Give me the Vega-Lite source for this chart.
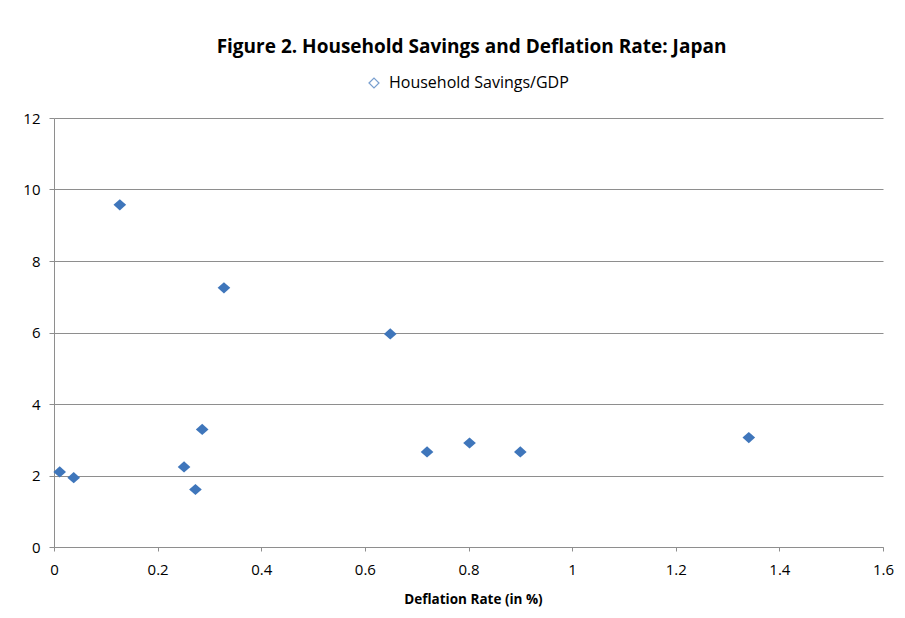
{
  "$schema": "https://vega.github.io/schema/vega-lite/v6.json",
  "autosize": {"type": "none"},
  "padding": {"left": 54, "top": 118, "right": 22, "bottom": 71},
  "width": 829,
  "height": 429,
  "background": "white",
  "title": {
    "text": "Figure 2. Household Savings and Deflation Rate: Japan",
    "font": "Open Sans",
    "fontSize": 19,
    "fontWeight": "bold",
    "color": "#000000",
    "anchor": "middle",
    "offset": 18,
    "dx": 3
  },
  "data": {
    "values": [
      {"deflation": 0.011, "savings": 2.10, "series": "Household Savings/GDP"},
      {"deflation": 0.038, "savings": 1.94, "series": "Household Savings/GDP"},
      {"deflation": 0.127, "savings": 9.57, "series": "Household Savings/GDP"},
      {"deflation": 0.251, "savings": 2.24, "series": "Household Savings/GDP"},
      {"deflation": 0.273, "savings": 1.61, "series": "Household Savings/GDP"},
      {"deflation": 0.286, "savings": 3.29, "series": "Household Savings/GDP"},
      {"deflation": 0.328, "savings": 7.25, "series": "Household Savings/GDP"},
      {"deflation": 0.649, "savings": 5.96, "series": "Household Savings/GDP"},
      {"deflation": 0.720, "savings": 2.66, "series": "Household Savings/GDP"},
      {"deflation": 0.802, "savings": 2.91, "series": "Household Savings/GDP"},
      {"deflation": 0.900, "savings": 2.66, "series": "Household Savings/GDP"},
      {"deflation": 1.341, "savings": 3.06, "series": "Household Savings/GDP"}
    ]
  },
  "encoding": {
    "x": {
      "field": "deflation",
      "type": "quantitative",
      "scale": {"domain": [0, 1.6], "nice": false, "zero": true},
      "axis": {
        "title": "Deflation Rate (in %)",
        "titleFont": "Open Sans",
        "titleFontSize": 13.5,
        "titleFontWeight": "bold",
        "titleColor": "#000000",
        "titlePadding": 15,
        "titleX": 419,
        "values": [0, 0.2, 0.4, 0.6, 0.8, 1, 1.2, 1.4, 1.6],
        "format": "~g",
        "grid": false,
        "domainColor": "#8e8e8e",
        "tickColor": "#8e8e8e",
        "tickSize": 4,
        "labelFont": "Open Sans",
        "labelFontSize": 15,
        "labelColor": "#000000",
        "labelPadding": 11,
        "labelFlush": false,
        "labelOverlap": false
      }
    },
    "y": {
      "field": "savings",
      "type": "quantitative",
      "scale": {"domain": [0, 12], "nice": false},
      "axis": {
        "title": null,
        "values": [0, 2, 4, 6, 8, 10, 12],
        "grid": true,
        "gridColor": "#8e8e8e",
        "gridWidth": 1,
        "domainColor": "#8e8e8e",
        "tickColor": "#8e8e8e",
        "tickSize": 5,
        "labelFont": "Open Sans",
        "labelFontSize": 15,
        "labelColor": "#000000",
        "labelPadding": 9,
        "labelOverlap": false
      }
    }
  },
  "layer": [
    {
      "mark": {
        "type": "point",
        "filled": true,
        "color": "#3f76bb",
        "opacity": 1,
        "shape": "M-1,0L0,-0.88L1,0L0,0.88Z",
        "size": 160
      }
    },
    {
      "mark": {
        "type": "point",
        "filled": false,
        "size": 0,
        "strokeWidth": 1.2
      },
      "encoding": {
        "stroke": {
          "field": "series",
          "type": "nominal",
          "scale": {"range": ["#3f76bb"]},
          "legend": {
            "title": null,
            "orient": "none",
            "legendX": 312,
            "legendY": -43,
            "padding": 0,
            "symbolSize": 100,
            "symbolType": "diamond",
            "symbolStrokeWidth": 1.2,
            "symbolFillColor": "transparent",
            "labelFont": "Open Sans",
            "labelFontSize": 16,
            "labelColor": "#000000",
            "labelOffset": 7,
            "labelLimit": 400
          }
        }
      }
    }
  ],
  "config": {
    "view": {"stroke": null}
  }
}
